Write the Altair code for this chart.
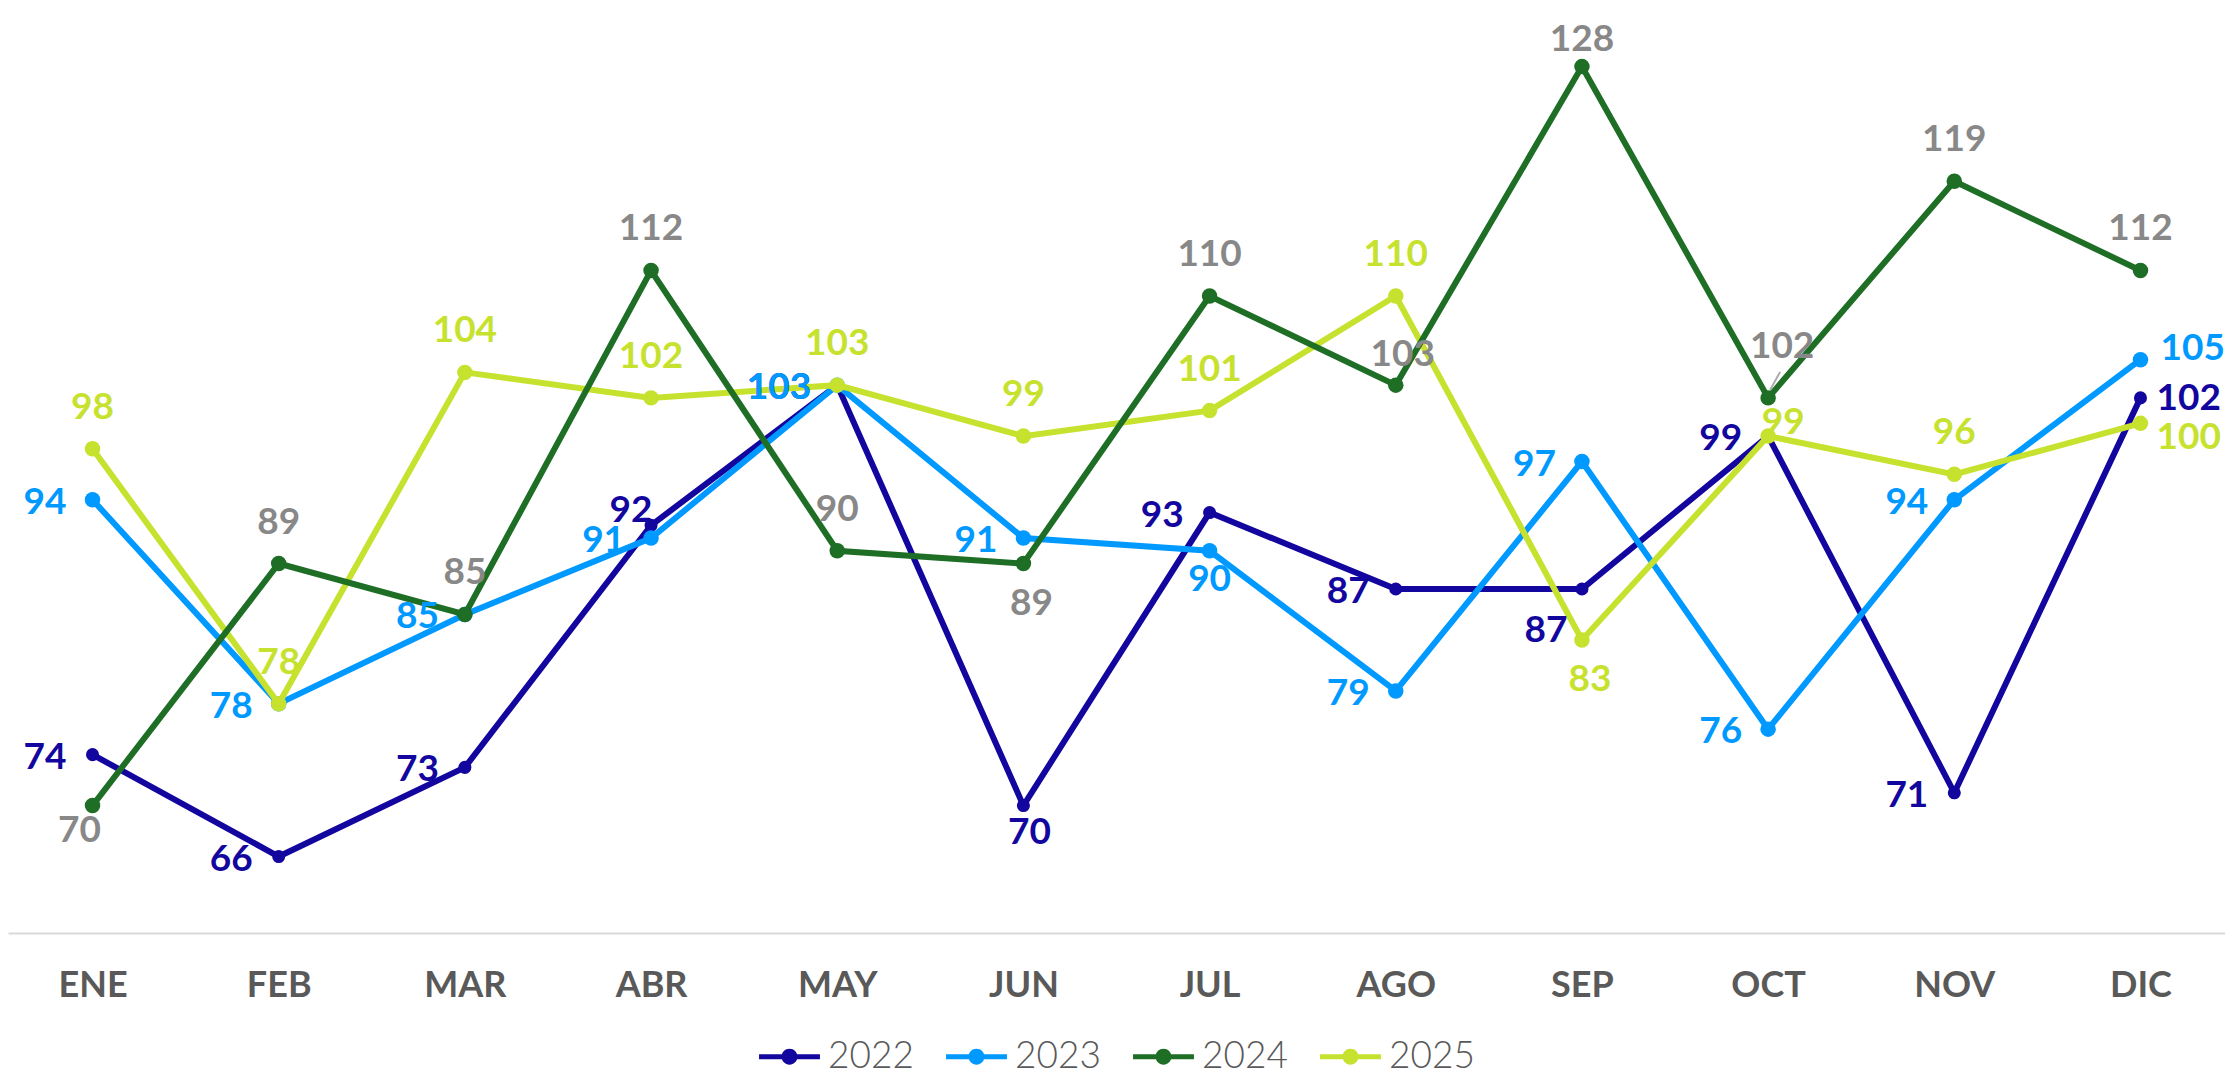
import altair as alt
import pandas as pd

months = ["ENE", "FEB", "MAR", "ABR", "MAY", "JUN", "JUL", "AGO", "SEP", "OCT", "NOV", "DIC"]
years = ["2022", "2023", "2024", "2025"]
v2022 = [74, 66, 73, 92, 103, 70, 93, 87, 87, 99, 71, 102]
v2023 = [94, 78, 85, 91, 103, 91, 90, 79, 97, 76, 94, 105]
v2024 = [70, 89, 85, 112, 90, 89, 110, 103, 128, 102, 119, 112]
v2025 = [98, 78, 104, 102, 103, 99, 101, 110, 83, 99, 96, 100]

line_colors = ["#13069e", "#0099ff", "#1e6e26", "#c6e22e"]
label_colors = ["#13069e", "#0099ff", "#888888", "#c6e22e"]

# label placement codes per point
pos2022 = ["L", "L", "L", "AL", "L", "Bd", "L", "L", "BL", "L", "L", "R"]
pos2023 = ["L", "L", "L", "L", "L", "L", "B", "L", "L", "L", "L", "RA"]
pos2024 = ["Bl", "A", "A", "A", "A", "Bg", "A", "Ad", "Ac", "Ar", "A", "A"]
pos2025 = ["A", "A", "A", "A", "A", "A", "A", "A", "Bg", "Ao", "A", "RB"]

placements = {
    "L": ("right", -26, 14),
    "R": ("left", 16, 12),
    "RA": ("left", 20, 0),
    "RB": ("left", 16, 26),
    "A": ("center", 0, -30),
    "Ac": ("center", 0, -16),
    "Ad": ("center", 7, -19),
    "Ar": ("center", 14, -40),
    "Ao": ("center", 15, -2),
    "AL": ("center", -20, -3),
    "B": ("center", 0, 40),
    "Bd": ("center", 6, 38),
    "Bl": ("center", -13, 36),
    "Bg": ("center", 8, 51),
    "BL": ("center", -36, 53),
}

series = [v2022, v2023, v2024, v2025]
positions = [pos2022, pos2023, pos2024, pos2025]
rows = []
for yi, y in enumerate(years):
    for mi, m in enumerate(months):
        rows.append({"month": m, "year": y, "value": series[yi][mi],
                     "txt": str(series[yi][mi]), "lc": label_colors[yi],
                     "pos": positions[yi][mi]})
df = pd.DataFrame(rows)

legend_path = ("M-2.03,-0.167L2.03,-0.167L2.03,0.167L-2.03,0.167Z "
               "M0.53,0A0.53,0.53 0 1,1 -0.53,0A0.53,0.53 0 1,1 0.53,0Z")

x_enc = alt.X("month:N", sort=months,
              scale=alt.Scale(type="point", padding=0.454),
              axis=alt.Axis(title=None, labelAngle=0, labelFont="Lato",
                            labelFontSize=36, labelFontWeight="bold",
                            labelColor="#595959", ticks=False,
                            domainColor="#d9d9d9", domainWidth=2,
                            labelPadding=35, grid=False))
y_enc = alt.Y("value:Q", scale=alt.Scale(domain=[60, 132.6], nice=False, zero=False),
              axis=None)
color_scale = alt.Scale(domain=years, range=line_colors)
legend = alt.Legend(orient="none", legendX=763, legendY=1030,
                    direction="horizontal", title=None,
                    symbolType=legend_path, symbolSize=900,
                    symbolStrokeWidth=0, symbolOpacity=1,
                    labelFont="Lato", labelFontSize=37,
                    labelFontWeight=300, labelColor="#595959",
                    labelOffset=20, columnPadding=32)

layers = []
draw_order = ["2022", "2023", "2025", "2024"]
for y in draw_order:
    sub = df[df["year"] == y]
    col = line_colors[years.index(y)]
    line = alt.Chart(sub).mark_line(strokeWidth=6, color=col).encode(
        x=x_enc, y=y_enc)
    pts = alt.Chart(sub).mark_circle(size=170 if y == "2022" else 240, opacity=1).encode(
        x=x_enc, y=y_enc,
        color=alt.Color("year:N", scale=color_scale, legend=legend))
    layers += [line, pts]

# leader line for the label placed away from its point
leader = alt.Chart(df[df["pos"] == "Ar"]).mark_rule(
    color="#aaaaaa", strokeWidth=2, xOffset=2, yOffset=-8, x2Offset=12, y2Offset=-26
).encode(x=x_enc, y=y_enc, x2="month:N", y2="value:Q")
layers.append(leader)

for code, (align, dx, dy) in placements.items():
    sub = df[df["pos"] == code]
    if len(sub) == 0:
        continue
    t = alt.Chart(sub).mark_text(align=align, baseline="alphabetic", dx=dx, dy=dy,
                                 font="Lato", fontSize=37, fontWeight="bold").encode(
        x=x_enc, y=y_enc, text="txt:N", color=alt.Color("lc:N", scale=None))
    layers.append(t)

chart = alt.layer(*layers).properties(
    width=2217, height=925,
    padding={"left": 0, "top": 0, "right": 0, "bottom": 142},
    autosize=alt.AutoSizeParams(type="none"),
).configure(background="white").configure_view(stroke=None)

chart.save("out.html", embed_options={"renderer": "svg", "actions": False})
